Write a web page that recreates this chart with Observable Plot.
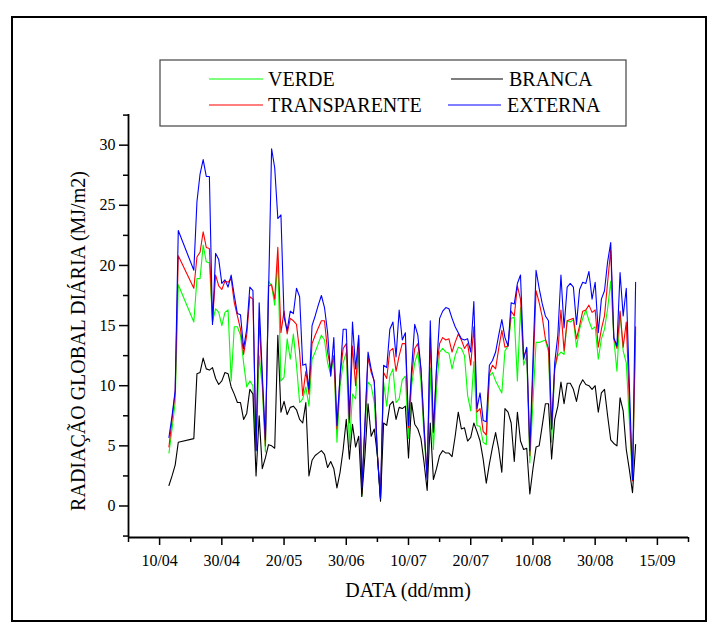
<!DOCTYPE html>
<html>
<head>
<meta charset="utf-8">
<script src="https://cdn.jsdelivr.net/npm/d3@7"></script>
<script src="https://cdn.jsdelivr.net/npm/@observablehq/plot@0.6"></script>
<style>
  html, body { margin: 0; padding: 0; background: #fff; }
  #chart { width: 724px; height: 639px; }
</style>
</head>
<body>
<div id="chart"></div>
<script>
// Day of year of each measurement
const days = [
  103,104,105,106,
  111,112,113,114,115,116,117,118,119,120,
  121,122,123,124,125,126,127,128,129,130,
  131,132,133,134,135,136,137,138,139,140,
  141,142,143,144,145,146,147,148,149,150,
  151,152,153,154,155,156,157,158,159,160,
  161,162,163,164,165,166,167,168,169,170,
  171,172,173,174,175,176,177,178,179,180,
  181,182,183,184,185,186,187,188,189,190,
  191,192,193,194,195,196,197,198,199,200,
  201,202,203,204,205,206,207,208,209,210,
  211,212,213,214,215,216,217,218,219,220,
  221,222,223,224,225,226,227,228,229,230,
  231,232,233,234,235,236,237,238,239,240,
  241,242,243,244,245,246,247,248,249,250,
  251,252,253
];

// Daily global radiation (MJ/m2) under each cover
const verde = [
  4.4,6.4,8.6,18.4,
  15.3,18.9,18.9,21.7,20.3,20.2,15.3,16.4,16.1,15.0,
  16.1,16.3,10.4,14.9,14.9,14.2,11.9,9.9,10.4,10.0,
  4.6,12.5,9.9,4.5,18.7,18.3,16.7,20.5,10.4,10.7,
  13.9,12.2,14.3,11.7,8.6,8.9,9.9,8.3,12.2,12.8,
  13.5,14.2,13.8,11.9,10.9,12.4,5.3,9.9,11.9,12.8,
  4.9,9.3,8.9,13.1,0.8,6.4,10.3,10.0,8.6,4.2,
  0.6,10.3,8.3,10.8,11.4,8.6,8.9,10.5,10.8,5.6,
  10.0,11.9,12.8,10.3,5.8,2.4,11.5,4.7,9.7,12.8,
  13.1,12.8,12.7,11.4,12.5,13.2,13.1,12.5,9.2,7.9,
  12.0,6.7,6.6,5.3,5.1,10.8,11.1,10.4,9.9,9.4,
  12.9,13.3,15.6,15.7,10.4,16.5,11.7,12.5,3.6,8.6,
  13.6,13.6,13.7,13.8,12.8,5.3,11.4,12.5,12.8,12.6,
  15.4,15.3,15.5,13.2,14.7,15.6,16.3,15.4,14.7,14.9,
  12.2,13.9,14.7,16.4,18.7,13.9,11.2,16.1,12.9,11.9,
  7.0,2.2,14.5
];
const transparente = [
  4.9,7.2,9.4,20.8,
  18.1,20.7,21.1,22.8,21.5,21.4,15.3,19.2,18.3,18.0,
  18.7,18.6,18.9,16.9,15.8,14.7,12.6,14.2,17.4,17.2,
  4.7,15.5,10.5,5.0,18.3,18.4,17.2,21.5,14.4,16.2,
  14.3,15.6,15.4,15.1,12.8,9.2,11.2,9.3,13.5,14.2,
  14.8,15.4,15.4,12.8,11.4,12.5,6.4,10.8,13.1,13.5,
  6.9,13.3,10.0,13.9,1.0,6.7,12.4,11.1,10.4,4.4,
  0.6,11.1,10.6,12.9,13.1,11.2,12.5,13.5,13.5,6.5,
  10.8,13.1,13.5,11.4,6.4,2.4,14.0,6.1,11.4,13.5,
  14.0,13.8,13.9,12.8,13.6,14.3,13.8,13.1,13.5,11.7,
  14.9,7.8,8.1,6.2,5.9,11.0,11.7,11.4,13.1,14.6,
  13.2,13.3,16.2,15.8,18.3,17.2,12.4,13.1,4.2,11.0,
  17.9,16.9,15.7,13.9,13.1,6.4,11.4,12.8,16.3,12.9,
  15.4,15.5,15.6,13.9,15.0,16.2,16.3,16.7,16.1,16.3,
  13.2,14.7,15.8,18.6,21.3,13.9,13.1,16.2,13.2,15.3,
  8.5,2.1,14.9
];
const branca = [
  1.7,2.5,3.4,5.3,
  5.6,11.0,11.1,12.3,11.4,11.3,11.5,10.6,10.1,10.4,
  11.1,11.0,9.9,9.3,8.6,8.6,7.2,7.7,9.7,9.3,
  2.5,7.5,3.1,4.0,5.1,5.0,4.8,14.2,7.8,8.7,
  7.6,8.2,8.3,8.0,7.2,6.9,8.6,2.5,3.8,4.2,
  4.4,4.6,4.3,3.2,3.7,3.1,1.5,2.8,4.7,7.2,
  3.9,6.8,4.9,5.8,0.8,4.2,8.5,5.8,6.4,4.2,
  0.4,6.9,6.7,8.4,8.7,7.2,8.2,8.1,8.3,4.0,
  8.6,6.8,6.4,5.6,3.6,1.3,6.9,2.2,3.1,4.2,
  4.6,4.4,4.4,4.1,5.8,7.8,6.4,6.5,5.4,5.7,
  6.9,6.2,5.4,3.9,1.9,3.5,4.9,6.1,4.7,2.8,
  8.1,7.8,6.9,3.7,7.8,5.4,4.7,4.8,1.0,3.1,
  4.9,5.0,6.7,8.5,8.5,3.9,7.2,8.3,10.3,8.5,
  10.2,10.2,9.7,8.7,10.0,10.5,10.1,10.0,9.7,10.0,
  7.8,9.4,9.7,7.5,5.5,5.2,5.0,9.0,7.9,4.7,
  3.0,1.1,5.1
];
const externa = [
  5.7,7.5,9.6,22.9,
  19.6,25.3,27.6,28.8,27.4,27.4,15.1,21.0,20.5,18.5,
  18.8,18.2,19.2,17.5,16.0,15.9,13.1,14.7,18.2,17.9,
  4.6,16.9,11.0,5.5,17.5,29.7,28.1,23.9,24.2,15.7,
  14.6,16.2,16.0,18.1,17.4,11.7,11.8,9.7,15.0,15.8,
  16.7,17.5,16.5,14.4,10.8,14.0,6.7,10.8,14.7,14.7,
  7.2,15.3,11.4,14.2,1.5,6.9,12.8,11.4,10.3,4.2,
  0.6,11.7,11.5,14.7,15.3,12.4,16.3,13.8,14.4,6.7,
  11.4,15.1,14.2,11.4,6.7,2.2,15.4,6.2,11.4,15.6,
  16.2,16.5,16.4,15.6,14.9,14.4,13.9,13.8,13.9,12.8,
  17.0,8.1,9.4,7.1,7.0,11.7,12.1,12.8,14.2,15.5,
  14.0,13.3,16.9,16.8,18.5,19.2,12.2,13.2,4.6,12.1,
  19.6,18.1,16.8,15.8,15.4,6.4,11.9,14.2,19.2,14.8,
  18.2,18.5,18.2,15.1,18.0,18.6,18.5,19.5,17.2,18.6,
  14.4,17.2,17.9,20.3,21.9,14.0,13.3,19.4,15.8,18.1,
  10.0,2.2,18.6
];

// Series names and colours, in drawing order
const seriesNames = ["VERDE", "TRANSPARENTE", "BRANCA", "EXTERNA"];
const seriesColors = ["#00ff00", "#ff0000", "#000000", "#0000ff"];
const seriesValues = [verde, transparente, branca, externa];

// Date axis: labelled ticks every 20 days, minor ticks every 10
const xTickDays = [100, 120, 140, 160, 180, 200, 220, 240, 260];
const xTickLabels = ["10/04", "30/04", "20/05", "30/06", "10/07", "20/07", "10/08", "30/08", "15/09"];
const xMinorDays = [90, 110, 130, 150, 170, 190, 210, 230, 250, 270];
const yTicks = [0, 5, 10, 15, 20, 25, 30];
const yMinorTicks = [-2.5, 2.5, 7.5, 12.5, 17.5, 22.5, 27.5, 32.5];

const xDomain = [90, 270];
const yDomain = [-2.62, 32.55];

const rows = seriesNames.flatMap((name, s) =>
  days.map((d, i) => ({ series: name, day: d, value: seriesValues[s][i] }))
);

const font = "'Liberation Serif', 'Times New Roman', serif";

const chart = Plot.plot({
  width: 724,
  height: 639,
  marginLeft: 128,
  marginRight: 36,
  marginTop: 114,
  marginBottom: 102,
  style: { fontFamily: font, fontSize: "16px", background: "#fff", color: "#000", overflow: "visible" },
  x: { domain: xDomain },
  y: { domain: yDomain },
  color: { domain: seriesNames, range: seriesColors },
  marks: [
    Plot.axisX({ ticks: xMinorDays, tickSize: 5, strokeWidth: 1.5, tickFormat: () => "", label: null }),
    Plot.axisX({
      ticks: xTickDays, tickSize: 8, tickPadding: 9, strokeWidth: 1.5, label: null,
      tickFormat: d => xTickLabels[xTickDays.indexOf(d)]
    }),
    Plot.axisY({ ticks: yMinorTicks, tickSize: 5, strokeWidth: 1.5, tickFormat: () => "", label: null }),
    Plot.axisY({ ticks: yTicks, tickSize: 9, tickPadding: 4, strokeWidth: 1.5, label: null, tickFormat: d => String(d) }),
    ...seriesNames.map(name =>
      Plot.line(rows.filter(r => r.series === name), {
        x: "day", y: "value", stroke: "series", strokeWidth: 1.1
      })
    ),
    Plot.ruleY([yDomain[0]], { strokeWidth: 1.8 }),
    Plot.ruleX([xDomain[0]], { strokeWidth: 1.8 })
  ]
});

document.getElementById("chart").appendChild(chart);

// Page frame, axis titles and legend box
const svg = d3.select(chart);

svg.append("rect")
  .attr("x", 12).attr("y", 17)
  .attr("width", 694).attr("height", 604)
  .attr("fill", "none").attr("stroke", "#000").attr("stroke-width", 2);

svg.append("text")
  .attr("x", 408).attr("y", 597)
  .attr("text-anchor", "middle")
  .attr("font-family", font).attr("font-size", 20)
  .attr("fill", "#000")
  .text("DATA (dd/mm)");

svg.append("text")
  .attr("transform", "translate(85,341) rotate(-90)")
  .attr("text-anchor", "middle")
  .attr("font-family", font).attr("font-size", 20)
  .attr("fill", "#000")
  .text("RADIAÇÃO GLOBAL DIÁRIA (MJ/m2)");

const legend = svg.append("g");
legend.append("rect")
  .attr("x", 160).attr("y", 60)
  .attr("width", 466).attr("height", 66)
  .attr("fill", "#fff").attr("stroke", "#444").attr("stroke-width", 1.2);

const legendItems = [
  { name: "VERDE", color: seriesColors[0], x1: 209, x2: 263, tx: 268, y: 79 },
  { name: "TRANSPARENTE", color: seriesColors[1], x1: 209, x2: 263, tx: 268, y: 105 },
  { name: "BRANCA", color: seriesColors[2], x1: 451, x2: 503, tx: 509, y: 79 },
  { name: "EXTERNA", color: seriesColors[3], x1: 448, x2: 501, tx: 507, y: 105 }
];
for (const it of legendItems) {
  legend.append("line")
    .attr("x1", it.x1).attr("x2", it.x2)
    .attr("y1", it.y).attr("y2", it.y)
    .attr("stroke", it.color).attr("stroke-width", 1.2);
  legend.append("text")
    .attr("x", it.tx).attr("y", it.y + 7)
    .attr("text-anchor", "start")
    .attr("font-family", font).attr("font-size", 20)
    .attr("fill", "#000")
    .text(it.name);
}
</script>
</body>
</html>
